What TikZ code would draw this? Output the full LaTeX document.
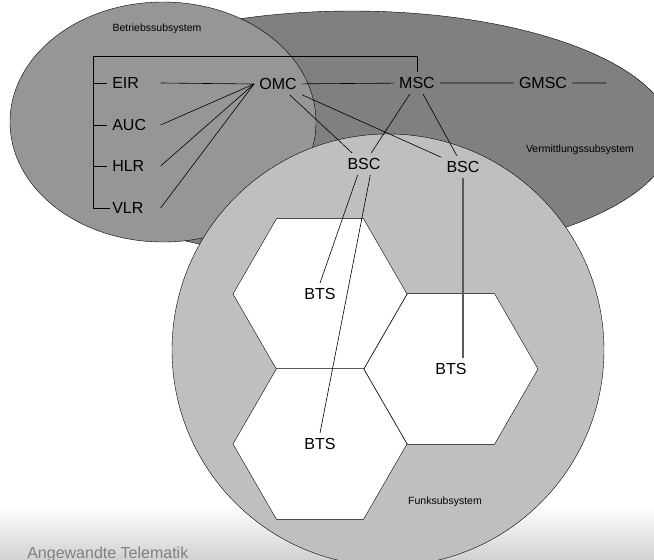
\documentclass[tikz,border=0pt]{standalone}
\usepackage{fontspec}
\setmainfont{Liberation Sans}
\usetikzlibrary{shapes.geometric}
\pgfdeclarelayer{bg}
\pgfsetlayers{bg,main}
\tikzset{elem/.style={anchor=west, text width=46pt, inner sep=2pt, font=\fontsize{16}{18}\selectfont}}
\tikzset{core/.style={inner sep=5pt, font=\fontsize{16}{18}\selectfont}}
\tikzset{area/.style={inner sep=0pt, font=\fontsize{10.5}{12}\selectfont}}
\tikzset{cell/.style={regular polygon, regular polygon sides=6, minimum size=174pt, inner sep=0pt, draw, fill=white}}

\begin{document}
\begin{tikzpicture}[x=1pt, y=-1pt, line width=0.6pt]
    \useasboundingbox (0,0) rectangle (654,560);

    \node (betrieb) [area] at (157,29) {Betriebssubsystem};
    \node (vermittl) [area] at (580,150) {Vermittlungssubsystem};
    \node (funk) [area] at (445,502) {Funksubsystem};

    \node (eir) [elem] at (110,83) {EIR};
    \node (auc) [elem] at (110,125) {AUC};
    \node (hlr) [elem] at (110,166) {HLR};
    \node (vlr) [elem] at (110,208) {VLR};

    \node (omc) [core] at (278,84) {OMC};
    \node (msc) [core] at (417,83) {MSC};
    \node (gmsc) [core] at (543,83) {GMSC};
    \node (bsc1) [core] at (364,164) {BSC};
    \node (bsc2) [core] at (463,167) {BSC};
    \node (bts1) [core] at (320,294) {BTS};
    \node (bts2) [core] at (320,444) {BTS};
    \node (bts3) [core] at (451,369) {BTS};

    \coordinate (bus) at (93,56);
    \coordinate (gout) at (606,83);

    \draw (msc.north) |- (bus) |- (vlr.west);
    \foreach \n in {eir,auc,hlr}
        \draw [shorten >=3pt] (bus |- \n.west) -- (\n.west);
    \foreach \n in {eir,auc,hlr,vlr}
        \draw (\n.east) -- (omc.west);
    \draw (omc) -- (msc) -- (gmsc) -- (gout);
    \draw (omc) -- (bsc1);
    \draw (omc) -- (bsc2);
    \draw (msc) -- (bsc1);
    \draw (msc) -- (bsc2);
    \draw (bsc1.240) -- (bts1.north);
    \draw (bsc1.300) -- (bts2.north);
    \draw [black!65, line width=1.2pt] (bsc2.south) -- (bsc2.south |- bts3.north);

    \node (footer) [anchor=base west, inner sep=0pt, text=black!50, font=\fontsize{16}{18}\selectfont] at (27,558) {Angewandte Telematik};

    \begin{pgfonlayer}{bg}
        \shade [top color=white, bottom color=black!18] (0,505) rectangle (654,560);
        \draw [fill=black!50] (352,135) ellipse [x radius=320, y radius=124];
        \draw [fill=black!41] (163,122) ellipse [x radius=153, y radius=120];
        \draw [fill=black!25] (388,350) circle [radius=216];
        \node (cell1) [cell] at (320,294) {};
        \node (cell2) [cell] at (320,444) {};
        \node (cell3) [cell] at (451,369) {};
    \end{pgfonlayer}
\end{tikzpicture}
\end{document}
